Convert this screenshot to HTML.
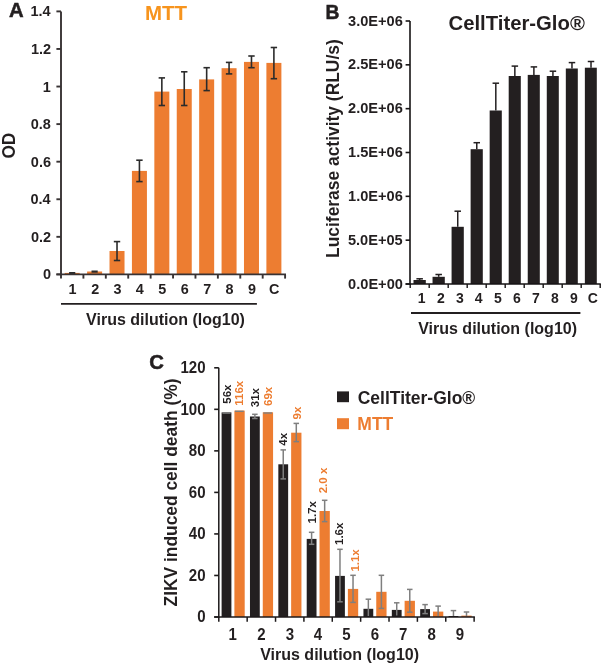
<!DOCTYPE html>
<html><head><meta charset="utf-8"><style>
html,body{margin:0;padding:0;background:#fff;}
body{width:601px;height:666px;overflow:hidden;font-family:"Liberation Sans", sans-serif;}
svg{display:block;will-change:transform;}
</style></head><body>
<svg width="601" height="666" viewBox="0 0 601 666">
<rect width="601" height="666" fill="#fff"/>
<rect x="64.70" y="272.90" width="15.00" height="1.50" fill="#ed7d31"/>
<rect x="87.11" y="271.50" width="15.00" height="2.90" fill="#ed7d31"/>
<rect x="109.52" y="251.00" width="15.00" height="23.40" fill="#ed7d31"/>
<rect x="131.93" y="170.90" width="15.00" height="103.50" fill="#ed7d31"/>
<rect x="154.34" y="91.60" width="15.00" height="182.80" fill="#ed7d31"/>
<rect x="176.75" y="89.00" width="15.00" height="185.40" fill="#ed7d31"/>
<rect x="199.16" y="79.40" width="15.00" height="195.00" fill="#ed7d31"/>
<rect x="221.57" y="68.20" width="15.00" height="206.20" fill="#ed7d31"/>
<rect x="243.98" y="61.90" width="15.00" height="212.50" fill="#ed7d31"/>
<rect x="266.39" y="62.90" width="15.00" height="211.50" fill="#ed7d31"/>
<rect x="69.10" y="272.00" width="6.20" height="2.00" fill="#2b2b2b"/>
<rect x="91.51" y="270.50" width="6.20" height="2.20" fill="#2b2b2b"/>
<line x1="117.02" y1="241.60" x2="117.02" y2="260.50" stroke="#2b2b2b" stroke-width="1.6" stroke-linecap="butt"/>
<line x1="113.82" y1="241.60" x2="120.22" y2="241.60" stroke="#2b2b2b" stroke-width="1.6" stroke-linecap="butt"/>
<line x1="113.82" y1="260.50" x2="120.22" y2="260.50" stroke="#2b2b2b" stroke-width="1.6" stroke-linecap="butt"/>
<line x1="139.43" y1="160.20" x2="139.43" y2="181.60" stroke="#2b2b2b" stroke-width="1.6" stroke-linecap="butt"/>
<line x1="136.23" y1="160.20" x2="142.63" y2="160.20" stroke="#2b2b2b" stroke-width="1.6" stroke-linecap="butt"/>
<line x1="136.23" y1="181.60" x2="142.63" y2="181.60" stroke="#2b2b2b" stroke-width="1.6" stroke-linecap="butt"/>
<line x1="161.84" y1="77.90" x2="161.84" y2="105.50" stroke="#2b2b2b" stroke-width="1.6" stroke-linecap="butt"/>
<line x1="158.64" y1="77.90" x2="165.04" y2="77.90" stroke="#2b2b2b" stroke-width="1.6" stroke-linecap="butt"/>
<line x1="158.64" y1="105.50" x2="165.04" y2="105.50" stroke="#2b2b2b" stroke-width="1.6" stroke-linecap="butt"/>
<line x1="184.25" y1="71.80" x2="184.25" y2="105.50" stroke="#2b2b2b" stroke-width="1.6" stroke-linecap="butt"/>
<line x1="181.05" y1="71.80" x2="187.45" y2="71.80" stroke="#2b2b2b" stroke-width="1.6" stroke-linecap="butt"/>
<line x1="181.05" y1="105.50" x2="187.45" y2="105.50" stroke="#2b2b2b" stroke-width="1.6" stroke-linecap="butt"/>
<line x1="206.66" y1="67.70" x2="206.66" y2="90.60" stroke="#2b2b2b" stroke-width="1.6" stroke-linecap="butt"/>
<line x1="203.46" y1="67.70" x2="209.86" y2="67.70" stroke="#2b2b2b" stroke-width="1.6" stroke-linecap="butt"/>
<line x1="203.46" y1="90.60" x2="209.86" y2="90.60" stroke="#2b2b2b" stroke-width="1.6" stroke-linecap="butt"/>
<line x1="229.07" y1="62.40" x2="229.07" y2="73.90" stroke="#2b2b2b" stroke-width="1.6" stroke-linecap="butt"/>
<line x1="225.87" y1="62.40" x2="232.27" y2="62.40" stroke="#2b2b2b" stroke-width="1.6" stroke-linecap="butt"/>
<line x1="225.87" y1="73.90" x2="232.27" y2="73.90" stroke="#2b2b2b" stroke-width="1.6" stroke-linecap="butt"/>
<line x1="251.48" y1="56.00" x2="251.48" y2="67.70" stroke="#2b2b2b" stroke-width="1.6" stroke-linecap="butt"/>
<line x1="248.28" y1="56.00" x2="254.68" y2="56.00" stroke="#2b2b2b" stroke-width="1.6" stroke-linecap="butt"/>
<line x1="248.28" y1="67.70" x2="254.68" y2="67.70" stroke="#2b2b2b" stroke-width="1.6" stroke-linecap="butt"/>
<line x1="273.89" y1="47.50" x2="273.89" y2="78.70" stroke="#2b2b2b" stroke-width="1.6" stroke-linecap="butt"/>
<line x1="270.69" y1="47.50" x2="277.09" y2="47.50" stroke="#2b2b2b" stroke-width="1.6" stroke-linecap="butt"/>
<line x1="270.69" y1="78.70" x2="277.09" y2="78.70" stroke="#2b2b2b" stroke-width="1.6" stroke-linecap="butt"/>
<line x1="61.00" y1="11.40" x2="61.00" y2="275.30" stroke="#383334" stroke-width="1.9" stroke-linecap="butt"/>
<line x1="56.40" y1="274.40" x2="61.00" y2="274.40" stroke="#383334" stroke-width="1.9" stroke-linecap="butt"/>
<line x1="56.40" y1="236.83" x2="61.00" y2="236.83" stroke="#383334" stroke-width="1.9" stroke-linecap="butt"/>
<line x1="56.40" y1="199.26" x2="61.00" y2="199.26" stroke="#383334" stroke-width="1.9" stroke-linecap="butt"/>
<line x1="56.40" y1="161.69" x2="61.00" y2="161.69" stroke="#383334" stroke-width="1.9" stroke-linecap="butt"/>
<line x1="56.40" y1="124.11" x2="61.00" y2="124.11" stroke="#383334" stroke-width="1.9" stroke-linecap="butt"/>
<line x1="56.40" y1="86.54" x2="61.00" y2="86.54" stroke="#383334" stroke-width="1.9" stroke-linecap="butt"/>
<line x1="56.40" y1="48.97" x2="61.00" y2="48.97" stroke="#383334" stroke-width="1.9" stroke-linecap="butt"/>
<line x1="56.40" y1="11.40" x2="61.00" y2="11.40" stroke="#383334" stroke-width="1.9" stroke-linecap="butt"/>
<line x1="56.40" y1="274.40" x2="286.00" y2="274.40" stroke="#383334" stroke-width="1.9" stroke-linecap="butt"/>
<line x1="61.00" y1="274.40" x2="61.00" y2="278.60" stroke="#383334" stroke-width="1.9" stroke-linecap="butt"/>
<line x1="83.41" y1="274.40" x2="83.41" y2="278.60" stroke="#383334" stroke-width="1.9" stroke-linecap="butt"/>
<line x1="105.82" y1="274.40" x2="105.82" y2="278.60" stroke="#383334" stroke-width="1.9" stroke-linecap="butt"/>
<line x1="128.23" y1="274.40" x2="128.23" y2="278.60" stroke="#383334" stroke-width="1.9" stroke-linecap="butt"/>
<line x1="150.64" y1="274.40" x2="150.64" y2="278.60" stroke="#383334" stroke-width="1.9" stroke-linecap="butt"/>
<line x1="173.05" y1="274.40" x2="173.05" y2="278.60" stroke="#383334" stroke-width="1.9" stroke-linecap="butt"/>
<line x1="195.46" y1="274.40" x2="195.46" y2="278.60" stroke="#383334" stroke-width="1.9" stroke-linecap="butt"/>
<line x1="217.87" y1="274.40" x2="217.87" y2="278.60" stroke="#383334" stroke-width="1.9" stroke-linecap="butt"/>
<line x1="240.28" y1="274.40" x2="240.28" y2="278.60" stroke="#383334" stroke-width="1.9" stroke-linecap="butt"/>
<line x1="262.69" y1="274.40" x2="262.69" y2="278.60" stroke="#383334" stroke-width="1.9" stroke-linecap="butt"/>
<line x1="285.10" y1="274.40" x2="285.10" y2="278.60" stroke="#383334" stroke-width="1.9" stroke-linecap="butt"/>
<text x="43.03" y="279.40" font-family='"Liberation Sans", sans-serif' font-weight="bold" font-size="14.5" fill="#231f20">0</text>
<text x="30.92" y="241.83" font-family='"Liberation Sans", sans-serif' font-weight="bold" font-size="14.5" fill="#231f20">0.2</text>
<text x="30.42" y="204.26" font-family='"Liberation Sans", sans-serif' font-weight="bold" font-size="14.5" fill="#231f20">0.4</text>
<text x="30.87" y="166.69" font-family='"Liberation Sans", sans-serif' font-weight="bold" font-size="14.5" fill="#231f20">0.6</text>
<text x="30.79" y="129.11" font-family='"Liberation Sans", sans-serif' font-weight="bold" font-size="14.5" fill="#231f20">0.8</text>
<text x="42.84" y="91.54" font-family='"Liberation Sans", sans-serif' font-weight="bold" font-size="14.5" fill="#231f20">1</text>
<text x="30.92" y="53.97" font-family='"Liberation Sans", sans-serif' font-weight="bold" font-size="14.5" fill="#231f20">1.2</text>
<text x="30.42" y="16.40" font-family='"Liberation Sans", sans-serif' font-weight="bold" font-size="14.5" fill="#231f20">1.4</text>
<text transform="translate(68.45,294.40) scale(0.9600,1)" font-family='"Liberation Sans", sans-serif' font-weight="bold" font-size="15" fill="#231f20">1</text>
<text transform="translate(91.15,294.40) scale(0.9600,1)" font-family='"Liberation Sans", sans-serif' font-weight="bold" font-size="15" fill="#231f20">2</text>
<text transform="translate(113.62,294.40) scale(0.9600,1)" font-family='"Liberation Sans", sans-serif' font-weight="bold" font-size="15" fill="#231f20">3</text>
<text transform="translate(135.86,294.40) scale(0.9600,1)" font-family='"Liberation Sans", sans-serif' font-weight="bold" font-size="15" fill="#231f20">4</text>
<text transform="translate(158.32,294.40) scale(0.9600,1)" font-family='"Liberation Sans", sans-serif' font-weight="bold" font-size="15" fill="#231f20">5</text>
<text transform="translate(180.75,294.40) scale(0.9600,1)" font-family='"Liberation Sans", sans-serif' font-weight="bold" font-size="15" fill="#231f20">6</text>
<text transform="translate(203.17,294.40) scale(0.9600,1)" font-family='"Liberation Sans", sans-serif' font-weight="bold" font-size="15" fill="#231f20">7</text>
<text transform="translate(225.56,294.40) scale(0.9600,1)" font-family='"Liberation Sans", sans-serif' font-weight="bold" font-size="15" fill="#231f20">8</text>
<text transform="translate(248.00,294.40) scale(0.9600,1)" font-family='"Liberation Sans", sans-serif' font-weight="bold" font-size="15" fill="#231f20">9</text>
<text transform="translate(269.10,294.40) scale(0.9600,1)" font-family='"Liberation Sans", sans-serif' font-weight="bold" font-size="15" fill="#231f20">C</text>
<line x1="61.00" y1="303.90" x2="256.90" y2="303.90" stroke="#231f20" stroke-width="1.9" stroke-linecap="butt"/>
<text x="86.09" y="324.70" font-family='"Liberation Sans", sans-serif' font-weight="bold" font-size="16" fill="#231f20">Virus dilution (log10)</text>
<text transform="translate(15.40,158.61) rotate(-90) scale(0.9566,1)" font-family='"Liberation Sans", sans-serif' font-weight="bold" font-size="18" fill="#231f20">OD</text>
<text x="8.99" y="16.80" font-family='"Liberation Sans", sans-serif' font-weight="bold" font-size="20.3" fill="#231f20" stroke="#231f20" stroke-width="0.5">A</text>
<text x="144.93" y="20.00" font-family='"Liberation Sans", sans-serif' font-weight="bold" font-size="20.5" fill="#f7941d">MTT</text>
<line x1="419.65" y1="278.80" x2="419.65" y2="280.00" stroke="#231f20" stroke-width="1.5" stroke-linecap="butt"/>
<line x1="416.40" y1="278.80" x2="422.90" y2="278.80" stroke="#231f20" stroke-width="1.5" stroke-linecap="butt"/>
<rect x="413.50" y="280.00" width="12.30" height="4.00" fill="#231f20"/>
<line x1="438.69" y1="274.50" x2="438.69" y2="276.80" stroke="#231f20" stroke-width="1.5" stroke-linecap="butt"/>
<line x1="435.44" y1="274.50" x2="441.94" y2="274.50" stroke="#231f20" stroke-width="1.5" stroke-linecap="butt"/>
<rect x="432.54" y="276.80" width="12.26" height="7.20" fill="#231f20"/>
<line x1="457.73" y1="211.20" x2="457.73" y2="226.80" stroke="#231f20" stroke-width="1.5" stroke-linecap="butt"/>
<line x1="454.48" y1="211.20" x2="460.98" y2="211.20" stroke="#231f20" stroke-width="1.5" stroke-linecap="butt"/>
<rect x="451.58" y="226.80" width="12.22" height="57.20" fill="#231f20"/>
<line x1="476.77" y1="142.70" x2="476.77" y2="149.20" stroke="#231f20" stroke-width="1.5" stroke-linecap="butt"/>
<line x1="473.52" y1="142.70" x2="480.02" y2="142.70" stroke="#231f20" stroke-width="1.5" stroke-linecap="butt"/>
<rect x="470.62" y="149.20" width="12.18" height="134.80" fill="#231f20"/>
<line x1="495.81" y1="83.20" x2="495.81" y2="110.50" stroke="#231f20" stroke-width="1.5" stroke-linecap="butt"/>
<line x1="492.56" y1="83.20" x2="499.06" y2="83.20" stroke="#231f20" stroke-width="1.5" stroke-linecap="butt"/>
<rect x="489.66" y="110.50" width="12.14" height="173.50" fill="#231f20"/>
<line x1="514.85" y1="66.10" x2="514.85" y2="76.00" stroke="#231f20" stroke-width="1.5" stroke-linecap="butt"/>
<line x1="511.60" y1="66.10" x2="518.10" y2="66.10" stroke="#231f20" stroke-width="1.5" stroke-linecap="butt"/>
<rect x="508.70" y="76.00" width="12.10" height="208.00" fill="#231f20"/>
<line x1="533.89" y1="66.90" x2="533.89" y2="74.90" stroke="#231f20" stroke-width="1.5" stroke-linecap="butt"/>
<line x1="530.64" y1="66.90" x2="537.14" y2="66.90" stroke="#231f20" stroke-width="1.5" stroke-linecap="butt"/>
<rect x="527.74" y="74.90" width="12.06" height="209.10" fill="#231f20"/>
<line x1="552.93" y1="71.20" x2="552.93" y2="76.00" stroke="#231f20" stroke-width="1.5" stroke-linecap="butt"/>
<line x1="549.68" y1="71.20" x2="556.18" y2="71.20" stroke="#231f20" stroke-width="1.5" stroke-linecap="butt"/>
<rect x="546.78" y="76.00" width="12.02" height="208.00" fill="#231f20"/>
<line x1="571.97" y1="62.60" x2="571.97" y2="68.50" stroke="#231f20" stroke-width="1.5" stroke-linecap="butt"/>
<line x1="568.72" y1="62.60" x2="575.22" y2="62.60" stroke="#231f20" stroke-width="1.5" stroke-linecap="butt"/>
<rect x="565.82" y="68.50" width="11.98" height="215.50" fill="#231f20"/>
<line x1="591.01" y1="61.50" x2="591.01" y2="67.70" stroke="#231f20" stroke-width="1.5" stroke-linecap="butt"/>
<line x1="587.76" y1="61.50" x2="594.26" y2="61.50" stroke="#231f20" stroke-width="1.5" stroke-linecap="butt"/>
<rect x="584.86" y="67.70" width="11.94" height="216.30" fill="#231f20"/>
<line x1="410.00" y1="21.00" x2="410.00" y2="284.80" stroke="#161314" stroke-width="1.6" stroke-linecap="butt"/>
<line x1="405.60" y1="284.00" x2="410.00" y2="284.00" stroke="#161314" stroke-width="1.6" stroke-linecap="butt"/>
<line x1="405.60" y1="240.17" x2="410.00" y2="240.17" stroke="#161314" stroke-width="1.6" stroke-linecap="butt"/>
<line x1="405.60" y1="196.33" x2="410.00" y2="196.33" stroke="#161314" stroke-width="1.6" stroke-linecap="butt"/>
<line x1="405.60" y1="152.50" x2="410.00" y2="152.50" stroke="#161314" stroke-width="1.6" stroke-linecap="butt"/>
<line x1="405.60" y1="108.67" x2="410.00" y2="108.67" stroke="#161314" stroke-width="1.6" stroke-linecap="butt"/>
<line x1="405.60" y1="64.83" x2="410.00" y2="64.83" stroke="#161314" stroke-width="1.6" stroke-linecap="butt"/>
<line x1="405.60" y1="21.00" x2="410.00" y2="21.00" stroke="#161314" stroke-width="1.6" stroke-linecap="butt"/>
<line x1="405.60" y1="284.00" x2="600.80" y2="284.00" stroke="#161314" stroke-width="1.7" stroke-linecap="butt"/>
<line x1="410.20" y1="284.00" x2="410.20" y2="288.00" stroke="#161314" stroke-width="1.4" stroke-linecap="butt"/>
<line x1="429.20" y1="284.00" x2="429.20" y2="288.00" stroke="#161314" stroke-width="1.4" stroke-linecap="butt"/>
<line x1="448.20" y1="284.00" x2="448.20" y2="288.00" stroke="#161314" stroke-width="1.4" stroke-linecap="butt"/>
<line x1="467.20" y1="284.00" x2="467.20" y2="288.00" stroke="#161314" stroke-width="1.4" stroke-linecap="butt"/>
<line x1="486.20" y1="284.00" x2="486.20" y2="288.00" stroke="#161314" stroke-width="1.4" stroke-linecap="butt"/>
<line x1="505.20" y1="284.00" x2="505.20" y2="288.00" stroke="#161314" stroke-width="1.4" stroke-linecap="butt"/>
<line x1="524.20" y1="284.00" x2="524.20" y2="288.00" stroke="#161314" stroke-width="1.4" stroke-linecap="butt"/>
<line x1="543.20" y1="284.00" x2="543.20" y2="288.00" stroke="#161314" stroke-width="1.4" stroke-linecap="butt"/>
<line x1="562.20" y1="284.00" x2="562.20" y2="288.00" stroke="#161314" stroke-width="1.4" stroke-linecap="butt"/>
<line x1="581.20" y1="284.00" x2="581.20" y2="288.00" stroke="#161314" stroke-width="1.4" stroke-linecap="butt"/>
<line x1="600.20" y1="284.00" x2="600.20" y2="288.00" stroke="#161314" stroke-width="1.4" stroke-linecap="butt"/>
<text x="348.10" y="288.50" font-family='"Liberation Sans", sans-serif' font-weight="bold" font-size="14.6" fill="#231f20">0.0E+00</text>
<text x="347.91" y="244.67" font-family='"Liberation Sans", sans-serif' font-weight="bold" font-size="14.6" fill="#231f20">5.0E+05</text>
<text x="348.03" y="200.83" font-family='"Liberation Sans", sans-serif' font-weight="bold" font-size="14.6" fill="#231f20">1.0E+06</text>
<text x="348.03" y="157.00" font-family='"Liberation Sans", sans-serif' font-weight="bold" font-size="14.6" fill="#231f20">1.5E+06</text>
<text x="348.03" y="113.17" font-family='"Liberation Sans", sans-serif' font-weight="bold" font-size="14.6" fill="#231f20">2.0E+06</text>
<text x="348.03" y="69.33" font-family='"Liberation Sans", sans-serif' font-weight="bold" font-size="14.6" fill="#231f20">2.5E+06</text>
<text x="348.03" y="25.50" font-family='"Liberation Sans", sans-serif' font-weight="bold" font-size="14.6" fill="#231f20">3.0E+06</text>
<text x="417.66" y="302.80" font-family='"Liberation Sans", sans-serif' font-weight="bold" font-size="14" fill="#231f20">1</text>
<text x="436.94" y="302.80" font-family='"Liberation Sans", sans-serif' font-weight="bold" font-size="14" fill="#231f20">2</text>
<text x="456.00" y="302.80" font-family='"Liberation Sans", sans-serif' font-weight="bold" font-size="14" fill="#231f20">3</text>
<text x="474.84" y="302.80" font-family='"Liberation Sans", sans-serif' font-weight="bold" font-size="14" fill="#231f20">4</text>
<text x="493.89" y="302.80" font-family='"Liberation Sans", sans-serif' font-weight="bold" font-size="14" fill="#231f20">5</text>
<text x="512.90" y="302.80" font-family='"Liberation Sans", sans-serif' font-weight="bold" font-size="14" fill="#231f20">6</text>
<text x="531.91" y="302.80" font-family='"Liberation Sans", sans-serif' font-weight="bold" font-size="14" fill="#231f20">7</text>
<text x="550.90" y="302.80" font-family='"Liberation Sans", sans-serif' font-weight="bold" font-size="14" fill="#231f20">8</text>
<text x="569.92" y="302.80" font-family='"Liberation Sans", sans-serif' font-weight="bold" font-size="14" fill="#231f20">9</text>
<text x="587.65" y="302.80" font-family='"Liberation Sans", sans-serif' font-weight="bold" font-size="14" fill="#231f20">C</text>
<line x1="411.00" y1="313.00" x2="580.40" y2="313.00" stroke="#231f20" stroke-width="1.9" stroke-linecap="butt"/>
<text x="418.19" y="334.10" font-family='"Liberation Sans", sans-serif' font-weight="bold" font-size="16" fill="#231f20">Virus dilution (log10)</text>
<text transform="translate(338.90,257.97) rotate(-90) scale(0.9684,1)" font-family='"Liberation Sans", sans-serif' font-weight="bold" font-size="18" fill="#231f20">Luciferase activity (RLU/s)</text>
<text x="325.51" y="18.80" font-family='"Liberation Sans", sans-serif' font-weight="bold" font-size="19.3" fill="#231f20" stroke="#231f20" stroke-width="0.5">B</text>
<text x="448.57" y="29.90" font-family='"Liberation Sans", sans-serif' font-weight="bold" font-size="20.3" fill="#231f20">CellTiter-Glo®</text>
<rect x="221.60" y="412.40" width="9.80" height="204.60" fill="#231f20"/>
<rect x="234.40" y="410.60" width="10.30" height="206.40" fill="#ed7d31"/>
<rect x="249.97" y="416.50" width="9.80" height="200.50" fill="#231f20"/>
<rect x="262.77" y="412.30" width="10.30" height="204.70" fill="#ed7d31"/>
<rect x="278.34" y="464.30" width="9.80" height="152.70" fill="#231f20"/>
<rect x="291.14" y="432.70" width="10.30" height="184.30" fill="#ed7d31"/>
<rect x="306.71" y="538.90" width="9.80" height="78.10" fill="#231f20"/>
<rect x="319.51" y="511.00" width="10.30" height="106.00" fill="#ed7d31"/>
<rect x="335.08" y="575.90" width="9.80" height="41.10" fill="#231f20"/>
<rect x="347.88" y="588.90" width="10.30" height="28.10" fill="#ed7d31"/>
<rect x="363.45" y="608.80" width="9.80" height="8.20" fill="#231f20"/>
<rect x="376.25" y="591.80" width="10.30" height="25.20" fill="#ed7d31"/>
<rect x="391.82" y="609.90" width="9.80" height="7.10" fill="#231f20"/>
<rect x="404.62" y="600.80" width="10.30" height="16.20" fill="#ed7d31"/>
<rect x="420.19" y="609.10" width="9.80" height="7.90" fill="#231f20"/>
<rect x="432.99" y="611.60" width="10.30" height="5.40" fill="#ed7d31"/>
<rect x="448.56" y="616.00" width="9.80" height="1.00" fill="#231f20"/>
<rect x="461.36" y="615.60" width="10.30" height="1.40" fill="#ed7d31"/>
<rect x="222.40" y="412.40" width="8.20" height="1.40" fill="#7f7f7f"/>
<rect x="235.00" y="410.60" width="8.70" height="1.40" fill="#7f7f7f"/>
<line x1="254.87" y1="414.30" x2="254.87" y2="418.50" stroke="#7f7f7f" stroke-width="1.5" stroke-linecap="butt"/>
<line x1="252.12" y1="414.30" x2="257.62" y2="414.30" stroke="#7f7f7f" stroke-width="1.5" stroke-linecap="butt"/>
<line x1="252.12" y1="418.50" x2="257.62" y2="418.50" stroke="#7f7f7f" stroke-width="1.5" stroke-linecap="butt"/>
<rect x="263.37" y="412.30" width="8.70" height="1.40" fill="#7f7f7f"/>
<line x1="283.24" y1="449.90" x2="283.24" y2="478.90" stroke="#7f7f7f" stroke-width="1.5" stroke-linecap="butt"/>
<line x1="280.49" y1="449.90" x2="285.99" y2="449.90" stroke="#7f7f7f" stroke-width="1.5" stroke-linecap="butt"/>
<line x1="280.49" y1="478.90" x2="285.99" y2="478.90" stroke="#7f7f7f" stroke-width="1.5" stroke-linecap="butt"/>
<line x1="296.29" y1="423.40" x2="296.29" y2="441.60" stroke="#7f7f7f" stroke-width="1.5" stroke-linecap="butt"/>
<line x1="293.54" y1="423.40" x2="299.04" y2="423.40" stroke="#7f7f7f" stroke-width="1.5" stroke-linecap="butt"/>
<line x1="293.54" y1="441.60" x2="299.04" y2="441.60" stroke="#7f7f7f" stroke-width="1.5" stroke-linecap="butt"/>
<line x1="311.61" y1="532.30" x2="311.61" y2="544.30" stroke="#7f7f7f" stroke-width="1.5" stroke-linecap="butt"/>
<line x1="308.86" y1="532.30" x2="314.36" y2="532.30" stroke="#7f7f7f" stroke-width="1.5" stroke-linecap="butt"/>
<line x1="308.86" y1="544.30" x2="314.36" y2="544.30" stroke="#7f7f7f" stroke-width="1.5" stroke-linecap="butt"/>
<line x1="324.66" y1="500.30" x2="324.66" y2="521.60" stroke="#7f7f7f" stroke-width="1.5" stroke-linecap="butt"/>
<line x1="321.91" y1="500.30" x2="327.41" y2="500.30" stroke="#7f7f7f" stroke-width="1.5" stroke-linecap="butt"/>
<line x1="321.91" y1="521.60" x2="327.41" y2="521.60" stroke="#7f7f7f" stroke-width="1.5" stroke-linecap="butt"/>
<line x1="339.98" y1="549.30" x2="339.98" y2="601.80" stroke="#7f7f7f" stroke-width="1.5" stroke-linecap="butt"/>
<line x1="337.23" y1="549.30" x2="342.73" y2="549.30" stroke="#7f7f7f" stroke-width="1.5" stroke-linecap="butt"/>
<line x1="337.23" y1="601.80" x2="342.73" y2="601.80" stroke="#7f7f7f" stroke-width="1.5" stroke-linecap="butt"/>
<line x1="353.03" y1="575.30" x2="353.03" y2="602.40" stroke="#7f7f7f" stroke-width="1.5" stroke-linecap="butt"/>
<line x1="350.28" y1="575.30" x2="355.78" y2="575.30" stroke="#7f7f7f" stroke-width="1.5" stroke-linecap="butt"/>
<line x1="350.28" y1="602.40" x2="355.78" y2="602.40" stroke="#7f7f7f" stroke-width="1.5" stroke-linecap="butt"/>
<line x1="368.35" y1="599.20" x2="368.35" y2="616.00" stroke="#7f7f7f" stroke-width="1.5" stroke-linecap="butt"/>
<line x1="365.60" y1="599.20" x2="371.10" y2="599.20" stroke="#7f7f7f" stroke-width="1.5" stroke-linecap="butt"/>
<line x1="381.40" y1="575.30" x2="381.40" y2="608.40" stroke="#7f7f7f" stroke-width="1.5" stroke-linecap="butt"/>
<line x1="378.65" y1="575.30" x2="384.15" y2="575.30" stroke="#7f7f7f" stroke-width="1.5" stroke-linecap="butt"/>
<line x1="378.65" y1="608.40" x2="384.15" y2="608.40" stroke="#7f7f7f" stroke-width="1.5" stroke-linecap="butt"/>
<line x1="396.72" y1="602.80" x2="396.72" y2="615.50" stroke="#7f7f7f" stroke-width="1.5" stroke-linecap="butt"/>
<line x1="393.97" y1="602.80" x2="399.47" y2="602.80" stroke="#7f7f7f" stroke-width="1.5" stroke-linecap="butt"/>
<line x1="409.77" y1="589.40" x2="409.77" y2="612.20" stroke="#7f7f7f" stroke-width="1.5" stroke-linecap="butt"/>
<line x1="407.02" y1="589.40" x2="412.52" y2="589.40" stroke="#7f7f7f" stroke-width="1.5" stroke-linecap="butt"/>
<line x1="407.02" y1="612.20" x2="412.52" y2="612.20" stroke="#7f7f7f" stroke-width="1.5" stroke-linecap="butt"/>
<line x1="425.09" y1="604.60" x2="425.09" y2="613.60" stroke="#7f7f7f" stroke-width="1.5" stroke-linecap="butt"/>
<line x1="422.34" y1="604.60" x2="427.84" y2="604.60" stroke="#7f7f7f" stroke-width="1.5" stroke-linecap="butt"/>
<line x1="422.34" y1="613.60" x2="427.84" y2="613.60" stroke="#7f7f7f" stroke-width="1.5" stroke-linecap="butt"/>
<line x1="438.14" y1="606.10" x2="438.14" y2="616.00" stroke="#7f7f7f" stroke-width="1.5" stroke-linecap="butt"/>
<line x1="435.39" y1="606.10" x2="440.89" y2="606.10" stroke="#7f7f7f" stroke-width="1.5" stroke-linecap="butt"/>
<line x1="453.46" y1="610.60" x2="453.46" y2="616.00" stroke="#7f7f7f" stroke-width="1.5" stroke-linecap="butt"/>
<line x1="450.71" y1="610.60" x2="456.21" y2="610.60" stroke="#7f7f7f" stroke-width="1.5" stroke-linecap="butt"/>
<line x1="466.51" y1="612.00" x2="466.51" y2="616.40" stroke="#7f7f7f" stroke-width="1.5" stroke-linecap="butt"/>
<line x1="463.76" y1="612.00" x2="469.26" y2="612.00" stroke="#7f7f7f" stroke-width="1.5" stroke-linecap="butt"/>
<line x1="218.80" y1="367.80" x2="218.80" y2="617.75" stroke="#1c191a" stroke-width="1.5" stroke-linecap="butt"/>
<line x1="214.20" y1="617.00" x2="218.80" y2="617.00" stroke="#1c191a" stroke-width="1.6" stroke-linecap="butt"/>
<line x1="214.20" y1="575.47" x2="218.80" y2="575.47" stroke="#1c191a" stroke-width="1.6" stroke-linecap="butt"/>
<line x1="214.20" y1="533.93" x2="218.80" y2="533.93" stroke="#1c191a" stroke-width="1.6" stroke-linecap="butt"/>
<line x1="214.20" y1="492.40" x2="218.80" y2="492.40" stroke="#1c191a" stroke-width="1.6" stroke-linecap="butt"/>
<line x1="214.20" y1="450.87" x2="218.80" y2="450.87" stroke="#1c191a" stroke-width="1.6" stroke-linecap="butt"/>
<line x1="214.20" y1="409.33" x2="218.80" y2="409.33" stroke="#1c191a" stroke-width="1.6" stroke-linecap="butt"/>
<line x1="214.20" y1="367.80" x2="218.80" y2="367.80" stroke="#1c191a" stroke-width="1.6" stroke-linecap="butt"/>
<line x1="214.20" y1="617.00" x2="474.88" y2="617.00" stroke="#1c191a" stroke-width="1.6" stroke-linecap="butt"/>
<line x1="218.80" y1="617.00" x2="218.80" y2="621.80" stroke="#1c191a" stroke-width="1.5" stroke-linecap="butt"/>
<line x1="247.17" y1="617.00" x2="247.17" y2="621.80" stroke="#1c191a" stroke-width="1.5" stroke-linecap="butt"/>
<line x1="275.54" y1="617.00" x2="275.54" y2="621.80" stroke="#1c191a" stroke-width="1.5" stroke-linecap="butt"/>
<line x1="303.91" y1="617.00" x2="303.91" y2="621.80" stroke="#1c191a" stroke-width="1.5" stroke-linecap="butt"/>
<line x1="332.28" y1="617.00" x2="332.28" y2="621.80" stroke="#1c191a" stroke-width="1.5" stroke-linecap="butt"/>
<line x1="360.65" y1="617.00" x2="360.65" y2="621.80" stroke="#1c191a" stroke-width="1.5" stroke-linecap="butt"/>
<line x1="389.02" y1="617.00" x2="389.02" y2="621.80" stroke="#1c191a" stroke-width="1.5" stroke-linecap="butt"/>
<line x1="417.39" y1="617.00" x2="417.39" y2="621.80" stroke="#1c191a" stroke-width="1.5" stroke-linecap="butt"/>
<line x1="445.76" y1="617.00" x2="445.76" y2="621.80" stroke="#1c191a" stroke-width="1.5" stroke-linecap="butt"/>
<line x1="474.13" y1="617.00" x2="474.13" y2="621.80" stroke="#1c191a" stroke-width="1.5" stroke-linecap="butt"/>
<text transform="translate(197.25,622.40) scale(0.9650,1)" font-family='"Liberation Sans", sans-serif' font-weight="bold" font-size="15.6" fill="#231f20">0</text>
<text transform="translate(188.87,580.87) scale(0.9650,1)" font-family='"Liberation Sans", sans-serif' font-weight="bold" font-size="15.6" fill="#231f20">20</text>
<text transform="translate(188.87,539.33) scale(0.9650,1)" font-family='"Liberation Sans", sans-serif' font-weight="bold" font-size="15.6" fill="#231f20">40</text>
<text transform="translate(188.87,497.80) scale(0.9650,1)" font-family='"Liberation Sans", sans-serif' font-weight="bold" font-size="15.6" fill="#231f20">60</text>
<text transform="translate(188.87,456.27) scale(0.9650,1)" font-family='"Liberation Sans", sans-serif' font-weight="bold" font-size="15.6" fill="#231f20">80</text>
<text transform="translate(180.50,414.73) scale(0.9650,1)" font-family='"Liberation Sans", sans-serif' font-weight="bold" font-size="15.6" fill="#231f20">100</text>
<text transform="translate(180.50,373.20) scale(0.9650,1)" font-family='"Liberation Sans", sans-serif' font-weight="bold" font-size="15.6" fill="#231f20">120</text>
<text transform="translate(228.54,639.80) scale(0.9400,1)" font-family='"Liberation Sans", sans-serif' font-weight="bold" font-size="16" fill="#231f20">1</text>
<text transform="translate(257.21,639.80) scale(0.9400,1)" font-family='"Liberation Sans", sans-serif' font-weight="bold" font-size="16" fill="#231f20">2</text>
<text transform="translate(285.64,639.80) scale(0.9400,1)" font-family='"Liberation Sans", sans-serif' font-weight="bold" font-size="16" fill="#231f20">3</text>
<text transform="translate(313.84,639.80) scale(0.9400,1)" font-family='"Liberation Sans", sans-serif' font-weight="bold" font-size="16" fill="#231f20">4</text>
<text transform="translate(342.26,639.80) scale(0.9400,1)" font-family='"Liberation Sans", sans-serif' font-weight="bold" font-size="16" fill="#231f20">5</text>
<text transform="translate(370.65,639.80) scale(0.9400,1)" font-family='"Liberation Sans", sans-serif' font-weight="bold" font-size="16" fill="#231f20">6</text>
<text transform="translate(399.03,639.80) scale(0.9400,1)" font-family='"Liberation Sans", sans-serif' font-weight="bold" font-size="16" fill="#231f20">7</text>
<text transform="translate(427.39,639.80) scale(0.9400,1)" font-family='"Liberation Sans", sans-serif' font-weight="bold" font-size="16" fill="#231f20">8</text>
<text transform="translate(455.78,639.80) scale(0.9400,1)" font-family='"Liberation Sans", sans-serif' font-weight="bold" font-size="16" fill="#231f20">9</text>
<text x="260.19" y="660.40" font-family='"Liberation Sans", sans-serif' font-weight="bold" font-size="16" fill="#231f20">Virus dilution (log10)</text>
<text transform="translate(177.00,606.42) rotate(-90) scale(0.9659,1)" font-family='"Liberation Sans", sans-serif' font-weight="bold" font-size="18" fill="#231f20">ZIKV induced cell death (%)</text>
<text x="149.37" y="369.30" font-family='"Liberation Sans", sans-serif' font-weight="bold" font-size="20.3" fill="#231f20" stroke="#231f20" stroke-width="0.5">C</text>
<rect x="337.00" y="391.40" width="12.00" height="10.80" fill="#231f20"/>
<rect x="337.00" y="418.20" width="12.00" height="11.00" fill="#ed7d31"/>
<text x="357.68" y="403.70" font-family='"Liberation Sans", sans-serif' font-weight="bold" font-size="17.5" fill="#231f20">CellTiter-Glo®</text>
<text x="357.33" y="429.60" font-family='"Liberation Sans", sans-serif' font-weight="bold" font-size="17.5" fill="#ed7d31">MTT</text>
<text transform="translate(230.50,403.75) rotate(-90) scale(1.0000,1)" font-family='"Liberation Sans", sans-serif' font-weight="bold" font-size="11.5" fill="#231f20">56x</text>
<text transform="translate(242.50,405.72) rotate(-90) scale(1.0000,1)" font-family='"Liberation Sans", sans-serif' font-weight="bold" font-size="11.5" fill="#ed7d31">116x</text>
<text transform="translate(259.30,407.26) rotate(-90) scale(1.0000,1)" font-family='"Liberation Sans", sans-serif' font-weight="bold" font-size="11.5" fill="#231f20">31x</text>
<text transform="translate(272.00,405.92) rotate(-90) scale(1.0000,1)" font-family='"Liberation Sans", sans-serif' font-weight="bold" font-size="11.5" fill="#ed7d31">69x</text>
<text transform="translate(287.00,445.77) rotate(-90) scale(1.0000,1)" font-family='"Liberation Sans", sans-serif' font-weight="bold" font-size="11.5" fill="#231f20">4x</text>
<text transform="translate(301.30,419.40) rotate(-90) scale(1.0000,1)" font-family='"Liberation Sans", sans-serif' font-weight="bold" font-size="11.5" fill="#ed7d31">9x</text>
<text transform="translate(316.00,523.52) rotate(-90) scale(1.0000,1)" font-family='"Liberation Sans", sans-serif' font-weight="bold" font-size="11.5" fill="#231f20">1.7x</text>
<text transform="translate(327.30,493.30) rotate(-90) scale(1.0000,1)" font-family='"Liberation Sans", sans-serif' font-weight="bold" font-size="11.5" fill="#ed7d31">2.0 x</text>
<text transform="translate(343.00,545.02) rotate(-90) scale(1.0000,1)" font-family='"Liberation Sans", sans-serif' font-weight="bold" font-size="11.5" fill="#231f20">1.6x</text>
<text transform="translate(358.70,571.62) rotate(-90) scale(1.0000,1)" font-family='"Liberation Sans", sans-serif' font-weight="bold" font-size="11.5" fill="#ed7d31">1.1x</text>
</svg>
</body></html>
